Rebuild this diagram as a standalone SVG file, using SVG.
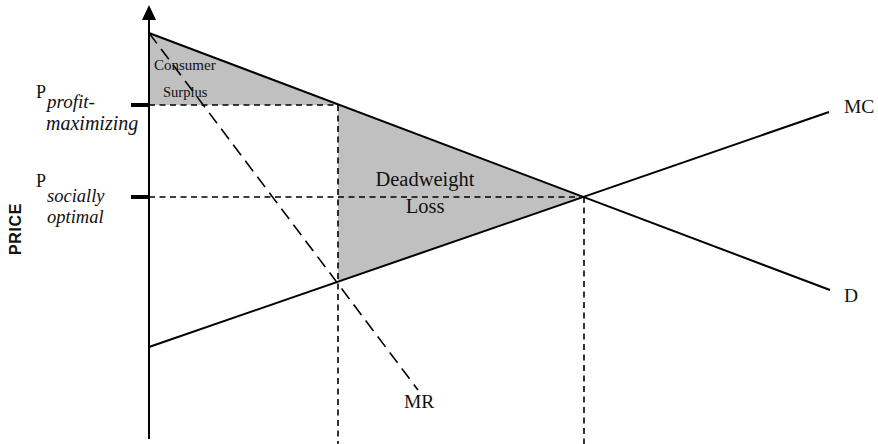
<svg xmlns="http://www.w3.org/2000/svg" width="878" height="444" viewBox="0 0 878 444">
<style>
.serif{font-family:"Liberation Serif","Times New Roman",serif;fill:#111}
.it{font-style:italic}
.solid{stroke:#000;stroke-width:2;fill:none}
.dash{stroke:#000;stroke-width:1.6;fill:none;stroke-dasharray:6 4.5}
.mr{stroke:#000;stroke-width:1.6;fill:none;stroke-dasharray:13 7}
.area{fill:#c0c0c0;stroke:none}
</style>
<rect width="878" height="444" fill="#fff"/>
<g id="areas">
<polygon id="consumer-surplus" class="area" points="149,33 338,105 149,105"/>
<polygon id="deadweight-loss" class="area" points="338,105 584,197 338,282"/>
</g>
<g id="connectors">
<line class="dash" x1="149" y1="105" x2="338" y2="105"/>
<line class="dash" x1="338" y1="105" x2="338" y2="444"/>
<line class="dash" x1="149" y1="197" x2="584" y2="197"/>
<line class="dash" x1="584" y1="197" x2="584" y2="444"/>
<line id="mr-line" class="mr" x1="149" y1="33" x2="418" y2="390"/>
<line id="d-line" class="solid" x1="149" y1="33" x2="830" y2="290"/>
<line id="mc-line" class="solid" x1="149" y1="347" x2="829" y2="112"/>
<line class="solid" x1="149" y1="18" x2="149" y2="439"/>
<polygon points="149,5 142,20 156,20" fill="#000"/>
<line stroke="#000" stroke-width="4" x1="131" y1="105" x2="149" y2="105"/>
<line stroke="#000" stroke-width="4" x1="131" y1="197" x2="149" y2="197"/>
</g>
<g id="price-axis-label">
<text x="15" y="229" transform="rotate(-90 15 229)" text-anchor="middle" dominant-baseline="central" font-family="'Liberation Sans',Arial,sans-serif" font-weight="bold" font-size="16" letter-spacing="0.6" fill="#111">PRICE</text>
</g>
<g id="p-profit">
<text class="serif" x="36" y="98" font-size="18">P</text>
<text class="serif it" x="47" y="108" font-size="19">profit-</text>
<text class="serif it" x="46" y="130" font-size="20">maximizing</text>
</g>
<g id="p-social">
<text class="serif" x="36" y="187" font-size="18">P</text>
<text class="serif it" x="47" y="202" font-size="18.5">socially</text>
<text class="serif it" x="47" y="223" font-size="18.5">optimal</text>
</g>
<g id="consumer-surplus-label">
<text class="serif" x="154" y="70" font-size="15">Consumer</text>
<text class="serif" x="163" y="97" font-size="14.5">Surplus</text>
</g>
<g id="deadweight-label">
<text class="serif" x="425" y="186" font-size="20.5" text-anchor="middle">Deadweight</text>
<text class="serif" x="425" y="213" font-size="20.5" text-anchor="middle">Loss</text>
</g>
<g id="mr-label"><text class="serif" x="404" y="408" font-size="19.5">MR</text></g>
<g id="mc-label"><text class="serif" x="844" y="113" font-size="19.5">MC</text></g>
<g id="d-label"><text class="serif" x="844" y="302" font-size="19.5">D</text></g>
</svg>
